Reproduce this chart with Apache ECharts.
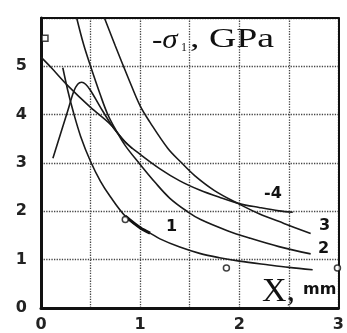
<!DOCTYPE html>
<html>
<head>
<meta charset="utf-8">
<script src="https://cdn.jsdelivr.net/npm/echarts@6/dist/echarts.min.js"></script>
<style>
html,body{margin:0;padding:0;background:#fff;}
#c{width:347px;height:333px;}
</style>
</head>
<body>
<div id="c"></div>
<script>
// X ticks and Y ticks
var xTicks = [0, 1, 2, 3];
var yTicks = [0, 1, 2, 3, 4, 5];

// Curves: [x (mm), -sigma1 (GPa)]
var curve1 = [[0.22,4.97],[0.27,4.5],[0.32,4.1],[0.4,3.55],[0.5,3.03],[0.6,2.62],[0.7,2.3],[0.85,1.9],[1.0,1.66],[1.1,1.55],[1.2,1.43],[1.4,1.26],[1.6,1.13],[1.8,1.04],[2.0,0.97],[2.3,0.89],[2.5,0.84],[2.74,0.79]];
var curve2 = [[0.36,6.0],[0.43,5.45],[0.5,5.0],[0.6,4.4],[0.67,4.02],[0.75,3.7],[0.85,3.36],[1.0,2.97],[1.15,2.6],[1.3,2.27],[1.48,1.99],[1.61,1.83],[1.88,1.6],[2.1,1.45],[2.4,1.27],[2.72,1.12]];
var curve3 = [[0.64,6.0],[0.75,5.42],[0.88,4.76],[1.0,4.18],[1.1,3.84],[1.28,3.3],[1.41,3.02],[1.55,2.74],[1.75,2.43],[1.98,2.17],[2.2,1.95],[2.45,1.75],[2.72,1.54]];
var curve4 = [[0.0,5.19],[0.1,4.98],[0.27,4.6],[0.5,4.15],[0.7,3.8],[0.85,3.43],[1.0,3.18],[1.2,2.88],[1.4,2.63],[1.6,2.44],[1.8,2.29],[2.0,2.16],[2.2,2.08],[2.4,2.01],[2.54,1.98]];
var hump = [[0.12,3.1],[0.27,4.08],[0.33,4.48],[0.37,4.63],[0.41,4.67],[0.45,4.63],[0.5,4.5],[0.6,4.15],[0.72,3.76],[0.82,3.5],[0.92,3.3]];
var circles = [[0.85,1.83],[1.87,0.83],[2.99,0.83]];
var squares = [[0.04,5.58]];

var chart = echarts.init(document.getElementById('c'), null, {renderer:'canvas'});
function lineSeries(d, w){
  return {type:'line', data:d, smooth:0.35, symbol:'none', silent:true,
    lineStyle:{color:'#1a1a1a', width:w||1.6}, z:3};
}
var boldSeg = curve1.filter(function(p){return p[0]>=0.85 && p[0]<=1.1;});
chart.setOption({
  animation:false,
  grid:{left:41, right:4, top:18, bottom:25},
  xAxis:[{type:'value', min:0, max:3, interval:0.5, position:'bottom',
    axisLine:{show:true, onZero:false, lineStyle:{color:'#111', width:3}},
    axisTick:{show:false},
    splitLine:{show:true, lineStyle:{color:'#444', type:'dotted', width:1.3}},
    axisLabel:{show:true, margin:9, color:'#222', fontFamily:'DejaVu Sans', fontWeight:'bold', fontSize:16,
      formatter:function(v){ return xTicks.indexOf(v)>=0 ? String(v) : ''; }}
  },{type:'value', min:0, max:3, interval:0.5, position:'top',
    axisLine:{show:true, onZero:false, lineStyle:{color:'#111', width:2}},
    axisTick:{show:false}, axisLabel:{show:false}, splitLine:{show:false}}],
  yAxis:[{type:'value', min:0, max:6, interval:1, position:'left',
    axisLine:{show:true, onZero:false, lineStyle:{color:'#111', width:3}},
    axisTick:{show:false},
    splitLine:{show:true, lineStyle:{color:'#444', type:'dotted', width:1.3}},
    axisLabel:{show:true, margin:14, color:'#222', fontFamily:'DejaVu Sans', fontWeight:'bold', fontSize:16,
      padding:[0,0,8,0],
      formatter:function(v){ return yTicks.indexOf(v)>=0 ? String(v) : ''; }}
  },{type:'value', min:0, max:6, interval:1, position:'right',
    axisLine:{show:true, onZero:false, lineStyle:{color:'#111', width:2}},
    axisTick:{show:false}, axisLabel:{show:false}, splitLine:{show:false}}],
  series:[
    lineSeries(curve1), lineSeries(curve2), lineSeries(curve3), lineSeries(curve4), lineSeries(hump),
    {type:'line', data:boldSeg, smooth:0.35, symbol:'none', lineStyle:{color:'#111', width:3}, z:4},
    {type:'scatter', data:circles, symbol:'circle', symbolSize:6,
      itemStyle:{color:'#fff', borderColor:'#111', borderWidth:1.5}, z:5},
    {type:'scatter', data:squares, symbol:'rect', symbolSize:6,
      itemStyle:{color:'#fff', borderColor:'#111', borderWidth:1.5}, z:5}
  ],
  graphic:[
    {type:'text', left:152, top:27, style:{text:'-σ', font:'italic 27px "Liberation Serif"', fill:'#111'}, scaleX:1.15},
    {type:'text', left:181, top:42, style:{text:'1', font:'12px "Liberation Serif"', fill:'#111'}},
    {type:'text', left:190, top:26, style:{text:', GPa', font:'27px "Liberation Serif"', fill:'#111'}, scaleX:1.4},
    {type:'text', left:262, top:275, style:{text:'X,', font:'34px "Liberation Serif"', fill:'#111'}},
    {type:'text', left:303, top:282, style:{text:'mm', font:'bold 16px "DejaVu Sans"', fill:'#111'}},
    {type:'text', left:166, top:219, style:{text:'1', font:'bold 16px "DejaVu Sans"', fill:'#111'}},
    {type:'text', left:318, top:241, style:{text:'2', font:'bold 16px "DejaVu Sans"', fill:'#111'}},
    {type:'text', left:319, top:218, style:{text:'3', font:'bold 16px "DejaVu Sans"', fill:'#111'}},
    {type:'text', left:264, top:186, style:{text:'-4', font:'bold 16px "DejaVu Sans"', fill:'#111'}}
  ]
});
</script>
</body>
</html>
